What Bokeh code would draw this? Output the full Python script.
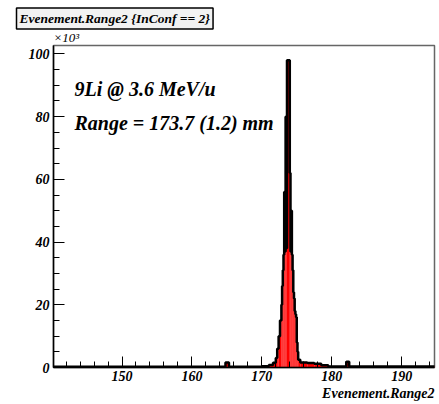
from bokeh.plotting import figure
from bokeh.models import Range1d, Label, Title, SingleIntervalTicker
from bokeh.embed import file_html
from bokeh.resources import INLINE

# Histogram of Evenement.Range2 (counts in units of 10^3)
bin_edges = [140.0, 164.8, 165.3, 170.0, 171.0, 171.6, 172.0, 172.2, 172.4, 172.6,
             172.8, 172.9, 173.0, 173.1, 173.2, 173.3, 173.4, 173.5, 173.6, 174.0,
             174.1, 174.2, 174.3, 174.4, 174.5, 174.6, 174.7, 174.8, 174.9, 175.0,
             175.1, 175.2, 175.5, 176.5, 177.5, 178.5, 179.5, 182.1, 182.5, 195.0]
bin_counts = [0.2, 1.6, 0.2, 0.4, 0.8, 1.5, 3.0, 6.0, 10.0, 15.0,
              20.0, 26.0, 31.0, 36.0, 56.0, 37.0, 80.0, 38.0, 98.0, 62.0,
              37.0, 50.0, 36.0, 31.0, 24.0, 22.0, 18.0, 17.0, 16.0, 8.0,
              5.0, 2.5, 1.6, 1.4, 1.2, 0.7, 0.3, 1.8, 0.3]
x_ticks = [150, 160, 170, 180, 190]
y_ticks = [0, 20, 40, 60, 80, 100]

FONT = "Liberation Serif"

p = figure(width=439, height=404, output_backend="svg", toolbar_location=None,
           x_range=Range1d(140.2, 194.7), y_range=Range1d(0, 102.7),
           min_border_left=53, min_border_right=5, min_border_top=45, min_border_bottom=37)
p.title.visible = False
p.background_fill_color = "white"
p.border_fill_color = "white"
p.outline_line_color = "#666666"
p.outline_line_width = 1.5
p.xgrid.visible = False
p.ygrid.visible = False

p.quad(left=bin_edges[:-1], right=bin_edges[1:], top=bin_counts, bottom=0,
       fill_color="#ff0000", line_color=None)
p.step(x=bin_edges, y=bin_counts + [bin_counts[-1]], mode="after",
       line_color="black", line_width=2.5)

for ax in (p.xaxis[0], p.yaxis[0]):
    ax.axis_line_color = "black"
    ax.axis_line_width = 1.5
    ax.major_tick_line_color = "black"
    ax.minor_tick_line_color = "black"
    ax.major_tick_out = 0
    ax.minor_tick_out = 0
    ax.major_label_text_font = FONT
    ax.major_label_text_font_style = "bold italic"
    ax.major_label_text_font_size = "14px"
    ax.major_label_text_color = "black"

p.xaxis.ticker = SingleIntervalTicker(interval=10, num_minor_ticks=5)
p.xaxis.major_tick_in = 11
p.xaxis.minor_tick_in = 6
p.xaxis.major_label_standoff = 3
p.yaxis.ticker = SingleIntervalTicker(interval=20, num_minor_ticks=4)
p.yaxis.major_tick_in = 11
p.yaxis.minor_tick_in = 6
p.yaxis.major_label_standoff = 4

p.add_layout(Title(text="Evenement.Range2", align="right", text_font=FONT,
                   text_font_style="bold italic", text_font_size="14px",
                   text_color="black", standoff=0, offset=0), "below")

# multiplier and histogram title box (above the frame)
p.add_layout(Title(text="×10³", align="left", offset=0, standoff=1, text_font=FONT,
                   text_font_style="italic", text_font_size="13px",
                   text_color="black"), "above")
p.add_layout(Title(text="Evenement.Range2 {InConf == 2}", align="left", offset=-37,
                   standoff=-3, text_font=FONT, text_font_style="bold italic",
                   text_font_size="13.5px", text_color="black",
                   background_fill_color="#f2f2f2", border_line_color="black",
                   border_line_width=1.5, padding=3), "above")

p.add_layout(Label(x=21, y=268, x_units="screen", y_units="screen",
                   text="9Li @ 3.6 MeV/u", text_font=FONT, text_color="black",
                   text_font_style="bold italic", text_font_size="20px"))
p.add_layout(Label(x=21, y=234, x_units="screen", y_units="screen",
                   text="Range = 173.7 (1.2) mm", text_font=FONT, text_color="black",
                   text_font_style="bold italic", text_font_size="20px"))

open("out.html", "w").write(file_html(p, INLINE))
